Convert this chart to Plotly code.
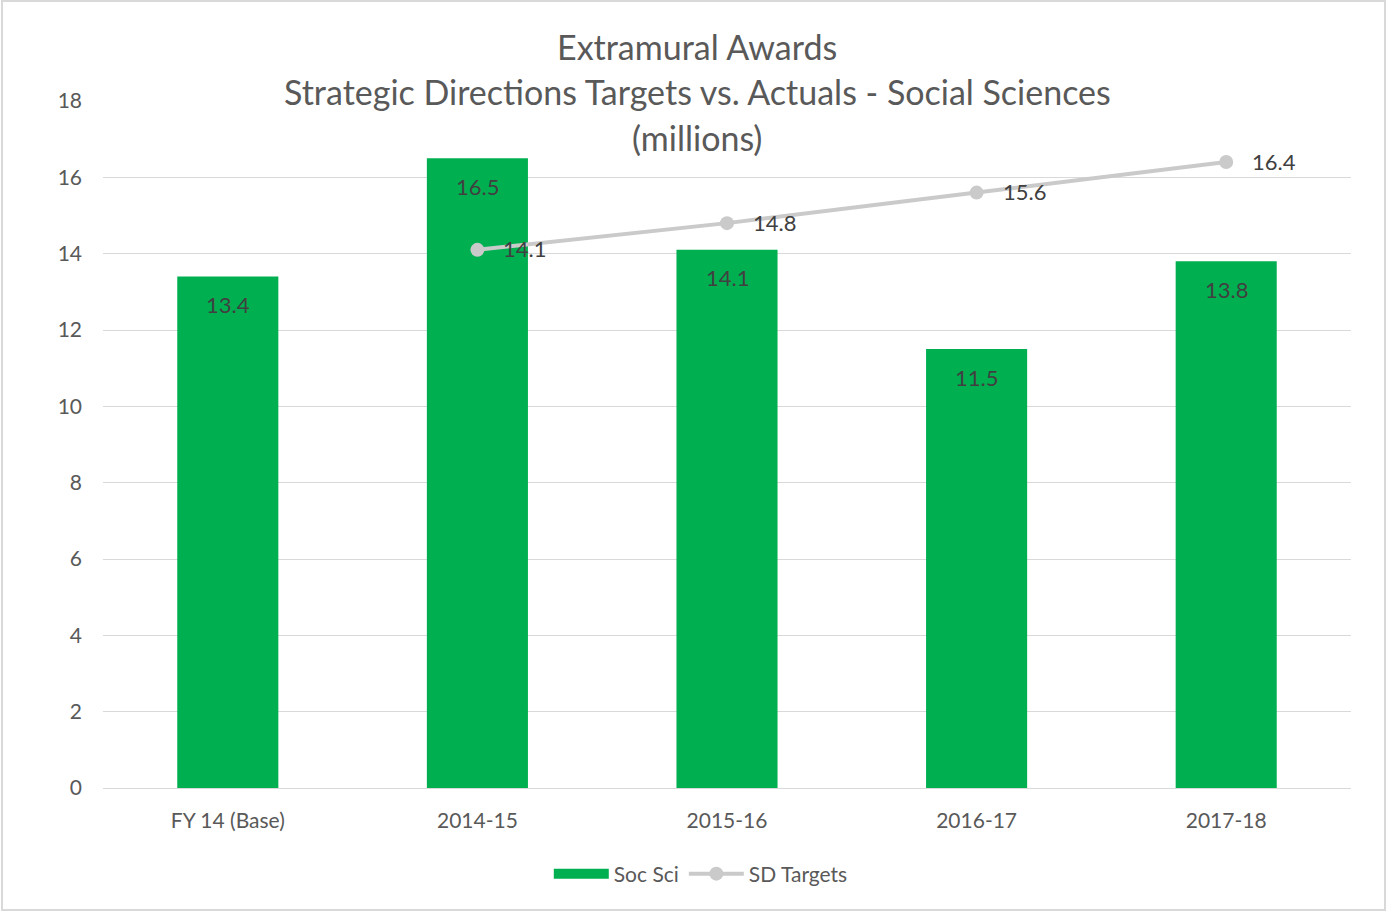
import plotly.graph_objects as go

categories = ["FY 14 (Base)", "2014-15", "2015-16", "2016-17", "2017-18"]
soc_sci = [13.4, 16.5, 14.1, 11.5, 13.8]
target_categories = ["2014-15", "2015-16", "2016-17", "2017-18"]
sd_targets = [14.1, 14.8, 15.6, 16.4]
title_lines = ["Extramural Awards",
               "Strategic Directions Targets vs. Actuals - Social Sciences",
               "(millions)"]

W, H = 1387, 912
L, R, T, B = 103, 36, 101, 124
pw, ph = W - L - R, H - T - B

FONT = "Lato, Open Sans, sans-serif"
GRAY = "#595959"
GREEN = "#00B050"
LINEC = "#CACACA"

fig = go.Figure()
fig.add_trace(go.Bar(
    x=categories, y=soc_sci, name="Soc Sci", showlegend=False,
    marker=dict(color=GREEN, line=dict(width=0)),
))
# legend proxy (wide green swatch)
fig.add_trace(go.Scatter(
    x=[None], y=[None], name="Soc Sci", mode="lines",
    line=dict(color=GREEN, width=15),
))
fig.add_trace(go.Scatter(
    x=target_categories, y=sd_targets, name="SD Targets",
    mode="lines+markers",
    line=dict(color=LINEC, width=4),
    marker=dict(color=LINEC, size=14),
))

annotations = []
for c, v in zip(categories, soc_sci):
    annotations.append(dict(x=c, y=v, xref="x", yref="y", text=f"{v:.1f}",
                            showarrow=False, yshift=-28,
                            font=dict(family=FONT, size=22, color="#404040")))
for c, v in zip(target_categories, sd_targets):
    annotations.append(dict(x=c, y=v, xref="x", yref="y", text=f"{v:.1f}",
                            showarrow=False, xanchor="left", xshift=24, yshift=1,
                            font=dict(family=FONT, size=22, color="#404040")))
for i, (line, py) in enumerate(zip(title_lines, [46, 91, 137])):
    annotations.append(dict(x=(697 - L) / pw, y=(H - B - py) / ph, xref="paper", yref="paper",
                            text=line, showarrow=False, xanchor="center", yanchor="middle",
                            font=dict(family=FONT, size=34, color=GRAY)))

fig.update_layout(
    width=W, height=H,
    margin=dict(l=L, r=R, t=T, b=B, autoexpand=False),
    paper_bgcolor="white", plot_bgcolor="white",
    bargap=0.595,
    font=dict(family=FONT, size=20, color=GRAY),
    xaxis=dict(showgrid=False, showline=False, ticks="", ticklabelstandoff=18,
               tickfont=dict(size=21, color=GRAY),
               categoryorder="array", categoryarray=categories),
    yaxis=dict(range=[0, 18], dtick=2, showgrid=True, gridcolor="#D9D9D9", gridwidth=1,
               zeroline=True, zerolinecolor="#D9D9D9", zerolinewidth=1,
               showline=False, ticks="", ticklabelstandoff=20,
               tickfont=dict(size=21, color=GRAY)),
    legend=dict(orientation="h", x=0.479, xanchor="center", y=(H - B - 874) / ph, yanchor="middle",
                font=dict(size=21, color=GRAY), itemwidth=55, tracegroupgap=0),
    annotations=annotations,
    shapes=[dict(type="rect", xref="paper", yref="paper",
                 x0=(2 - L) / pw, x1=(1385 - L) / pw,
                 y0=(H - B - 910) / ph, y1=(H - B - 1) / ph,
                 line=dict(color="#D9D9D9", width=2), fillcolor="rgba(0,0,0,0)", layer="below")],
)

fig.write_html("out.html", include_plotlyjs=True, config={"displayModeBar": False},
               post_script="document.body.style.margin='0';document.body.style.padding='0';")
